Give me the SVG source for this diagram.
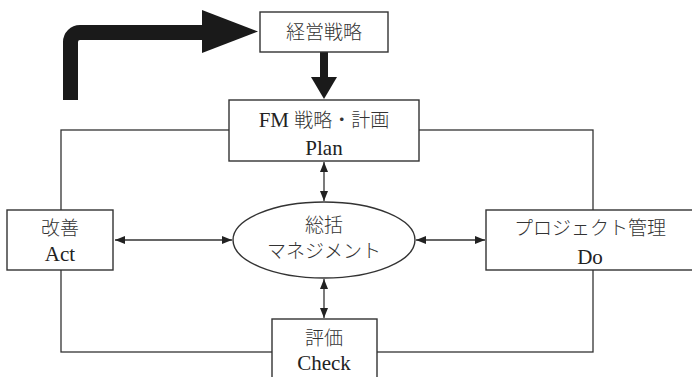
<svg xmlns="http://www.w3.org/2000/svg" width="692" height="377" viewBox="0 0 692 377">
<style>
.box{fill:#fff;stroke:#333;stroke-width:1.4}
.ln{fill:none;stroke:#333;stroke-width:1.3}
.jp{font-family:"Noto Sans CJK JP","Noto Sans CJK SC",sans-serif;font-size:19px;fill:#333;text-anchor:middle;font-weight:300}
.en{font-family:"Liberation Serif","Times New Roman",serif;font-size:21px;fill:#222;text-anchor:middle}
</style>
<defs>
<marker id="ah" viewBox="0 0 10 8" refX="10" refY="4" markerWidth="10" markerHeight="8" markerUnits="userSpaceOnUse" orient="auto-start-reverse">
<path d="M0,0 L10,4 L0,8 Z" fill="#222"/>
</marker>
</defs>
<g id="connectors">
<rect class="ln" x="61" y="130" width="532" height="222"/>
<path d="M70.5,100 V42 A9.5,9.5 0 0 1 80,32.5 H204" fill="none" stroke="#1a1a1a" stroke-width="15"/>
<polygon points="202,10 258,31.5 202,53" fill="#1a1a1a"/>
<rect x="320" y="52" width="8" height="26" fill="#1a1a1a"/>
<polygon points="311,77 337,77 324,99" fill="#1a1a1a"/>
<line class="ln" x1="324" y1="162" x2="324" y2="201" marker-start="url(#ah)" marker-end="url(#ah)"/>
<line class="ln" x1="324" y1="279" x2="324" y2="318" marker-start="url(#ah)" marker-end="url(#ah)"/>
<line class="ln" x1="115" y1="240" x2="232" y2="240" marker-start="url(#ah)" marker-end="url(#ah)"/>
<line class="ln" x1="416" y1="240" x2="485" y2="240" marker-start="url(#ah)" marker-end="url(#ah)"/>
</g>
<g id="strategy">
<rect class="box" x="260" y="12" width="128" height="40"/>
<text class="jp" x="324" y="39">経営戦略</text>
</g>
<g id="plan">
<rect class="box" x="229" y="100" width="190" height="61"/>
<text class="en" x="324" y="127"><tspan>FM </tspan><tspan class="jp" style="text-anchor:start">戦略・計画</tspan></text>
<text class="en" x="324" y="155">Plan</text>
</g>
<g id="act">
<rect class="box" x="7" y="210" width="106" height="60"/>
<text class="jp" x="60" y="235">改善</text>
<text class="en" x="60" y="261">Act</text>
</g>
<g id="do">
<rect class="box" x="486" y="210" width="210" height="60"/>
<text class="jp" x="590" y="235">プロジェクト管理</text>
<text class="en" x="590" y="264">Do</text>
</g>
<g id="management">
<ellipse class="box" cx="324" cy="240" rx="91" ry="38"/>
<text class="jp" x="324" y="232">総括</text>
<text class="jp" x="324" y="258">マネジメント</text>
</g>
<g id="check">
<rect class="box" x="272" y="319" width="105" height="62"/>
<text class="jp" x="324" y="345">評価</text>
<text class="en" x="324" y="370">Check</text>
</g>
</svg>
